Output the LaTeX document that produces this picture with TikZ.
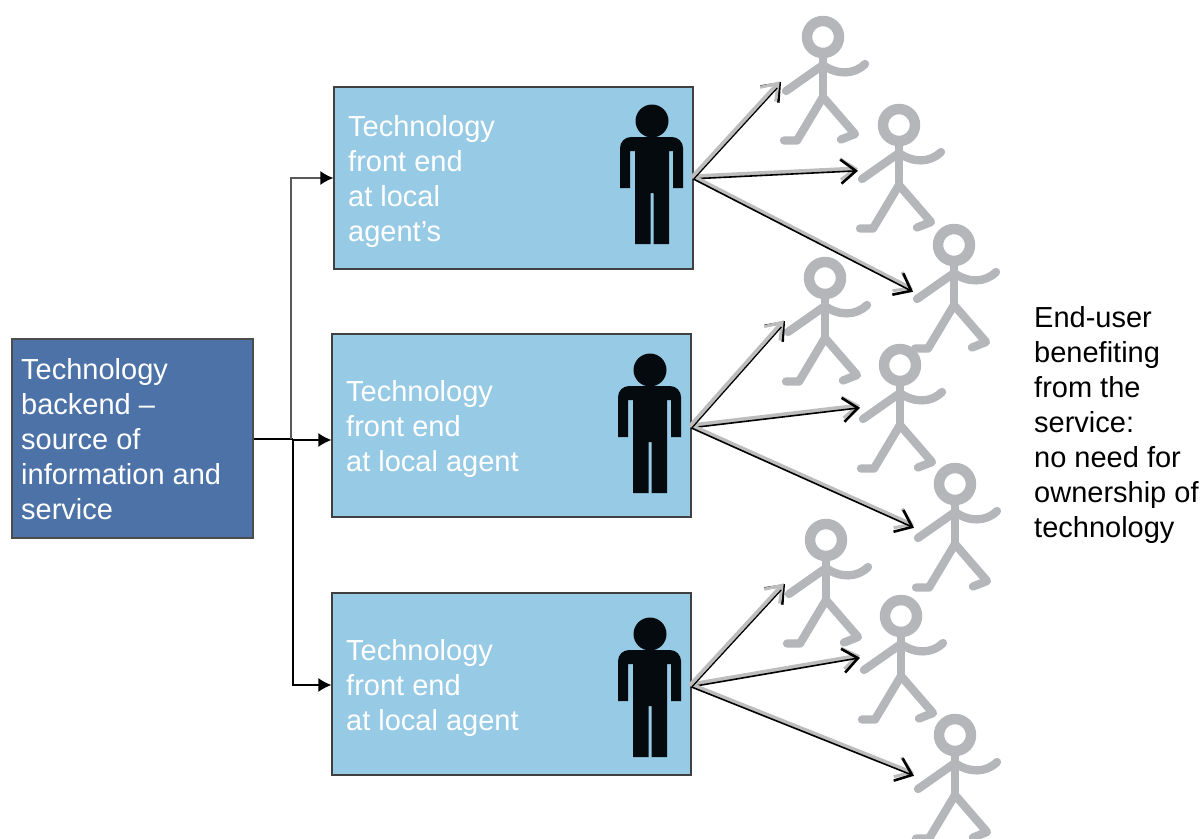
\documentclass[tikz,border=0pt]{standalone}
\usepackage{fontspec}
\setmainfont{Liberation Sans}
\usetikzlibrary{arrows.meta}
\definecolor{frontblue}{HTML}{97CAE5}
\definecolor{backblue}{HTML}{4C72A7}
\definecolor{stickgray}{HTML}{B4B6B9}
\definecolor{agentblack}{HTML}{040A0D}
\definecolor{haze}{HTML}{BDBDBD}
\tikzset{
  x=1pt,y=-1pt,
  box/.style={draw=black!75,line width=1.3pt,fill=frontblue,inner sep=0},
  backbox/.style={draw=black!70,line width=1.2pt,fill=backblue,inner sep=0},
  boxtext/.style={text=white,font=\fontsize{29}{35}\selectfont,align=left,anchor=north west,inner sep=0},
  plaintext/.style={text=black,font=\fontsize{29}{35}\selectfont,align=left,anchor=north west,inner sep=0},
  feedtip/.style={-{Latex[length=13pt,width=14pt,color=black]}},
  feedup/.style={draw=black!65,line width=1.4pt},
  feedlow/.style={draw=black,line width=1.3pt},
  shade/.style={draw=haze,line width=4pt,-{Straight Barb[length=15pt,width=21pt,line width=3pt,color=haze]}},
  fan/.style={draw=black,line width=1.6pt,-{Straight Barb[length=15pt,width=24pt,line width=2.6pt]}},
  fanthin/.style={draw=black,line width=1.2pt,shorten >=7pt},
  stick/.pic={
    \begin{scope}[draw=stickgray,line width=8.3pt,line cap=round,line join=round]
      \draw[line width=10.5pt] (0,0) circle (16);
      \draw (0,20) -- (0,60);
      \draw (0,28) -- (-37,54);
      \draw (0,28) .. controls (14,38) and (31,38) .. (42,27);
      \draw (-39,103.5) -- (-26,103.5) -- (0,60) -- (32,97) -- (18,102.5);
    \end{scope}
  },
  agent/.pic={
    \fill[agentblack] (0,0) circle (16.5);
    \fill[agentblack]
      (-17,123) -- (-1.5,123) -- (-1.5,72) -- (1.5,72) -- (1.5,123) -- (17,123)
      -- (17,30) -- (21,30) -- (21,67) -- (31,67)
      [rounded corners=11pt] -- (31,16) -- (-32,16) [sharp corners] [rounded corners=11pt] -- (-32,67) [sharp corners]
      -- (-32,67) -- (-22,67) -- (-22,30) -- (-17,30) -- cycle;
  },
}
\begin{document}
\begin{tikzpicture}
\useasboundingbox (0,0) rectangle (1202,838);
\clip (0,0) rectangle (1202,838);

% boxes
\node[backbox,minimum width=241pt,minimum height=199pt] (back) at (132.5,438.5) {};
\node[box,minimum width=359pt,minimum height=182pt] (front1) at (513.5,178) {};
\node[box,minimum width=359pt,minimum height=183pt] (front2) at (511.5,425.5) {};
\node[box,minimum width=359pt,minimum height=182pt] (front3) at (511.5,684) {};

% texts
\node[boxtext] (backtext) at (21,358) {Technology\\backend –\\source of\\information and\\service};
\node[boxtext] (text1) at (348,115) {Technology\\front end\\at local\\agent’s};
\node[boxtext] (text2) at (346,380) {Technology\\front end\\at local agent};
\node[boxtext] (text3) at (346,639) {Technology\\front end\\at local agent};
\node[plaintext] (endtext) at (1034,306) {End-user\\benefiting\\from the\\service:\\no need for\\ownership of\\technology};

% local agents
\pic at (652,121) {agent};
\pic at (650,370) {agent};
\pic at (650,634) {agent};

% end users
\foreach \n/\hx/\hy in {a/823/37,b/899/125,c/954/245,d/825/278,e/900/365,f/955/484,g/826/540,h/901/616,i/955/735}
  \pic at (\hx,\hy) {stick};

% backend feed
\coordinate (hub) at (293,439);
\coordinate (mid) at (293,440);
\coordinate (hubup) at (291,439);
\coordinate (up) at (291,178);
\coordinate (down) at (293,685);
\draw[draw=black,line width=2.6pt] (back.east |- hub) -- (hub);
\draw[feedup,feedtip] (hubup) -- (up) -- (front1.west |- up);
\draw[feedlow,feedtip] (mid) -- (front2.west |- mid);
\draw[feedlow,feedtip] (hub) -- (down) -- (front3.west |- down);

% fans
\coordinate (o1) at (693,178);
\coordinate (o2) at (691,427);
\coordinate (o3) at (691,686);
\coordinate (t1a) at (781,82);
\coordinate (t1b) at (858,170);
\coordinate (t1c) at (913,291);
\coordinate (t2a) at (785,321);
\coordinate (t2b) at (860,407);
\coordinate (t2c) at (914,527);
\coordinate (t3a) at (785,584);
\coordinate (t3b) at (860,657);
\coordinate (t3c) at (914,775);
\foreach \o/\t in {o1/t1b,o1/t1c,o2/t2b,o2/t2c,o3/t3b,o3/t3c}{
  \draw[shade] ([yshift=1.6pt]\o) -- ([yshift=1.6pt]\t);
  \draw[fan] ([yshift=-0.8pt]\o) -- ([yshift=-0.8pt]\t);
}
\foreach \o/\t in {o1/t1a,o2/t2a,o3/t3a}{
  \draw[fan] (\o) -- (\t);
  \draw[shade] ([xshift=-1.2pt,yshift=0.6pt]\o) -- ([xshift=-1.2pt,yshift=0.6pt]\t);
  \draw[fanthin] ([xshift=1pt,yshift=-0.8pt]\o) -- ([xshift=1pt,yshift=-0.8pt]\t);
}
\end{tikzpicture}
\end{document}
